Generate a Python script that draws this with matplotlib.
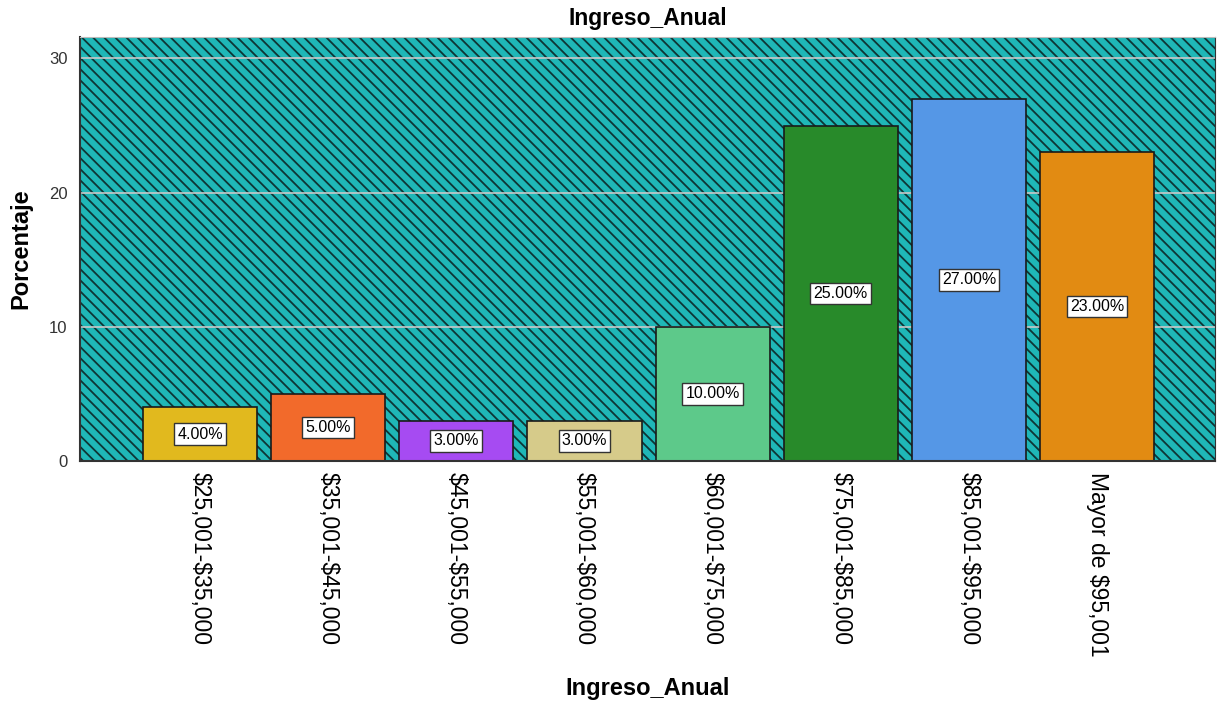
import numpy as np
import matplotlib
matplotlib.use("Agg")
import matplotlib.pyplot as plt
from matplotlib.patches import Rectangle

plt.rcParams['font.family'] = ['Liberation Sans', 'DejaVu Sans']
plt.rcParams['text.parse_math'] = False
plt.rcParams['hatch.linewidth'] = 1.3

categorias = ["$25,001-$35,000", "$35,001-$45,000", "$45,001-$55,000", "$55,001-$60,000",
              "$60,001-$75,000", "$75,001-$85,000", "$85,001-$95,000", "Mayor de $95,001"]
porcentajes = [4, 5, 3, 3, 10, 25, 27, 23]
colores = ["#E1B91E", "#F26A2B", "#A64BF2", "#D6CB8A", "#5DC98A", "#288A2A", "#5597E6", "#E28B12"]

fig = plt.figure(figsize=(12.21, 7.05), dpi=100)
ax = fig.add_axes([80 / 1221, 1 - 461 / 705, 1135 / 1221, 424 / 705])

# fondo rayado
ax.patch.set_visible(False)
fondo = Rectangle((0, 0), 1, 1, transform=ax.transAxes, facecolor="#1FB7B7",
                  edgecolor="#0E3535", hatch="\\\\\\", linewidth=0, zorder=0)
ax.add_patch(fondo)

x = np.arange(len(categorias))
ax.set_axisbelow(True)
ax.yaxis.grid(True, color="#C8C8C8", linewidth=1.2, zorder=1)
ax.bar(x, porcentajes, width=0.89, color=colores, edgecolor="#1a1a1a", linewidth=1.2, zorder=2)

for xi, v in zip(x, porcentajes):
    ax.text(xi, v / 2, f"{v:.2f}%", ha="center", va="center", fontsize=11.5, zorder=3,
            bbox=dict(boxstyle="square,pad=0.2", facecolor="white", edgecolor="#333333", linewidth=1))

ax.set_xlim(-0.937, 7.92)
ax.set_ylim(0, 31.6)
ax.set_yticks([0, 10, 20, 30])
ax.tick_params(axis="y", length=0, labelsize=12, pad=9, labelcolor="#333333")
ax.tick_params(axis="x", length=0, pad=8)
ax.set_xticks(x)
ax.set_xticklabels(categorias, rotation=-90, fontsize=16.5, va="top")

for lado in ["left", "bottom"]:
    ax.spines[lado].set_color("#333333")
    ax.spines[lado].set_linewidth(1.5)
ax.spines["top"].set_color("#BBBBBB")
ax.spines["right"].set_color("#333333")

ax.set_title("Ingreso_Anual", fontsize=16.5, fontweight="bold", pad=9)
ax.set_ylabel("Porcentaje", fontsize=17, fontweight="bold", labelpad=12)
ax.set_xlabel("Ingreso_Anual", fontsize=17, fontweight="bold", va="center")
ax.xaxis.set_label_coords(0.5, -227 / 424)

fig.savefig("out.png", dpi=100)
